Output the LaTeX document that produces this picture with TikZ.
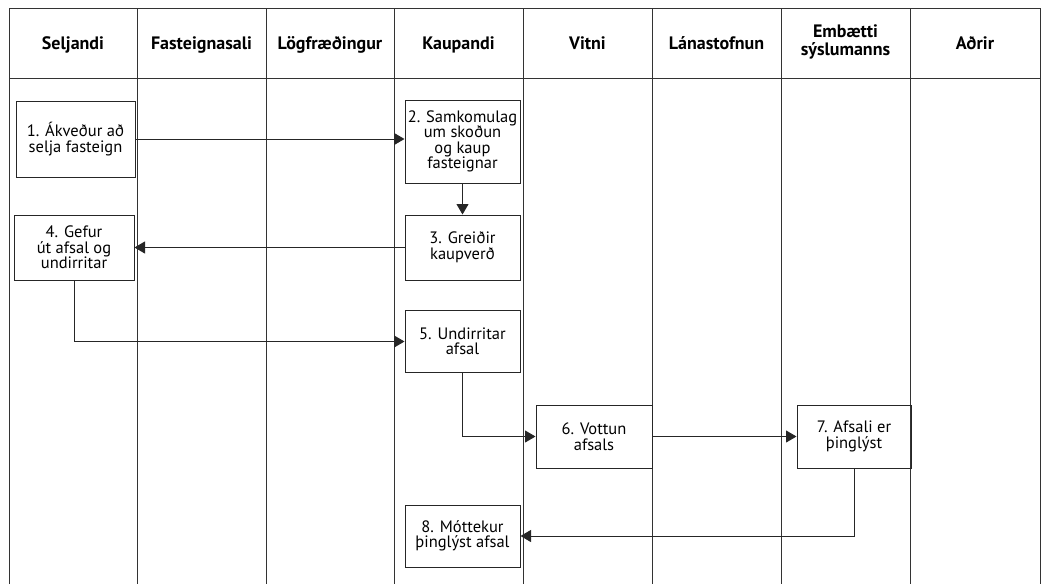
\documentclass[tikz,border=0pt]{standalone}
\usepackage{fontspec}
\setmainfont{PT Sans}
\usetikzlibrary{arrows.meta,calc}
\newcommand{\tightlines}{\lineskiplimit-100pt\relax}
\begin{document}
\begin{tikzpicture}[x=1pt,y=-1pt,
  lane/.style={draw=black!80,line width=1pt},
  hdr/.style={font=\fontsize{18}{18}\selectfont\bfseries\tightlines,align=center},
  stepbox/.style={draw=black!85,line width=1pt,align=center,inner sep=1pt,
    font=\fontsize{16.5}{15.5}\selectfont\tightlines},
  flow/.style={draw=black!85,line width=1pt,-{Triangle[length=10.5pt,width=12pt]}}]
\useasboundingbox (0,0) rectangle (1050,584);
% frame and lanes
\draw[lane] (9,584) -- (9,8) -- (1040,8) -- (1040,584);
\draw[lane] (9,78) -- (1040,78);
\foreach \x in {137,266,394,523,652,781,910}
  \draw[lane] (\x,8) -- (\x,584);
% headers
\node[hdr,anchor=base] (h1) at (73,49.5) {Seljandi};
\node[hdr,anchor=base] (h2) at (201.5,49.5) {Fasteignasali};
\node[hdr,anchor=base] (h3) at (330,49.5) {Lögfræðingur};
\node[hdr,anchor=base] (h4) at (458.5,49.5) {Kaupandi};
\node[hdr,anchor=base] (h5) at (587.5,49.5) {Vitni};
\node[hdr,anchor=base] (h6) at (716.5,49.5) {Lánastofnun};
\node[hdr] (h7) at (845.5,41.5) {Embætti\\sýslumanns};
\node[hdr,anchor=base] (h8) at (975,49.5) {Aðrir};
% steps
\node[stepbox,minimum width=119pt,minimum height=76pt] (b1) at (75.5,139) {1. Ákveður að\\selja fasteign};
\node[stepbox,minimum width=115pt,minimum height=83pt] (b2) at (462.5,141.5) {2. Samkomulag\\um skoðun\\og kaup\\fasteignar};
\node[stepbox,minimum width=120pt,minimum height=65pt] (b4) at (74,247.5) {4. Gefur\\út afsal og\\undirritar};
\node[stepbox,minimum width=115pt,minimum height=65pt] (b3) at (462.5,247.5) {3. Greiðir\\kaupverð};
\node[stepbox,minimum width=115pt,minimum height=62pt] (b5) at (462.5,341.5) {5. Undirritar\\afsal};
\node[stepbox,minimum width=116pt,minimum height=63pt] (b6) at (594,436.5) {6. Vottun\\afsals};
\node[stepbox,minimum width=114pt,minimum height=63pt] (b7) at (854,436.5) {7. Afsali er\\þinglýst};
\node[stepbox,minimum width=115pt,minimum height=62pt] (b8) at (462.5,536) {8. Móttekur\\þinglýst afsal};
% connectors
\draw[flow] (b1.east) -- (b1.east -| b2.west);
\draw[flow] (b2.south) -- (b3.north);
\draw[flow] (b3.west) -- (b4.east);
\draw[flow] (b4.south) |- (b5.west);
\draw[flow] (b5.south) |- (b6.west);
\draw[flow] (b6.east) -- (b7.west);
\draw[flow] (b7.south) |- (b8.east);
\end{tikzpicture}
\end{document}
